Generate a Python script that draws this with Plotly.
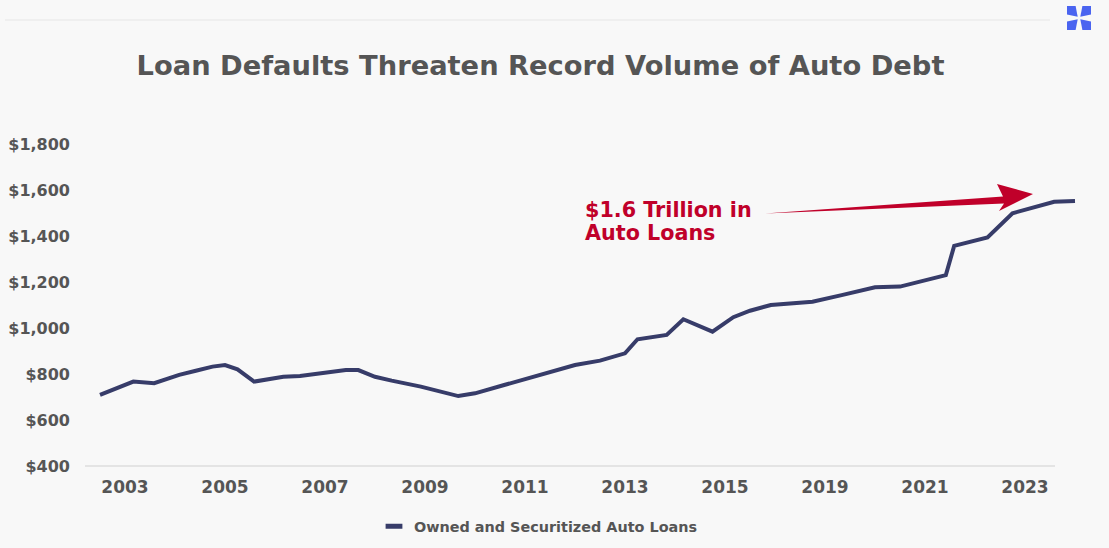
import plotly.graph_objects as go

# Motor vehicle loans owned and securitized, billions of dollars.
# x is months counted from January 2003.
months = [-6, 2, 7, 13, 17, 21, 24, 27, 31, 38, 42, 49, 53, 56, 60, 64, 71,
          80, 84, 91, 96, 103, 108, 114, 120, 123, 130, 134, 141, 146, 150,
          155, 165, 172, 180, 186, 191, 197, 199, 207, 213, 218, 223, 228]
loans = [709, 767, 760, 796, 814, 832, 839, 820, 767, 788, 791, 806, 817, 817,
         788, 771, 745, 704, 716, 752, 777, 810, 839, 858, 890, 951, 970, 1038,
         984, 1047, 1075, 1100, 1114, 1143, 1177, 1180, 1201, 1230, 1357, 1394,
         1499, 1525, 1549, 1552]

tick_months = [0, 24, 48, 72, 96, 120, 144, 168, 192, 216]
tick_labels = ["2003", "2005", "2007", "2009", "2011", "2013", "2015",
               "2019", "2021", "2023"]
y_ticks = [400, 600, 800, 1000, 1200, 1400, 1600, 1800]
y_labels = ["$400", "$600", "$800", "$1,000", "$1,200", "$1,400", "$1,600",
            "$1,800"]

series_name = "Owned and Securitized Auto Loans"
title_text = "Loan Defaults Threaten Record Volume of Auto Debt"
callout_lines = ["$1.6 Trillion in", "Auto Loans"]

NAVY = "#373c69"
RED = "#c0002a"
GREY = "#555555"
BG = "#f8f8f8"
FONT = "DejaVu Sans"

W, H = 1109, 548
ML, MR, MT, MB = 85, 29, 144, 82
plot_w = W - ML - MR
plot_h = H - MT - MB
AXIS_END = 1055  # right end of the baseline rule


def px(X, Y):
    """Page pixel -> pixel offset from the plot's lower-left corner (y up)."""
    return X - ML, (H - MB) - Y


def pixel_path(points):
    pts = [px(a, b) for a, b in points]
    return "M" + " L".join(f"{a:.1f},{b:.1f}" for a, b in pts) + " Z"


def pixel_shape(**kw):
    base = dict(xref="paper", yref="paper", xsizemode="pixel",
                ysizemode="pixel", xanchor=0, yanchor=0)
    base.update(kw)
    return base


fig = go.Figure()

fig.add_trace(go.Scatter(
    x=months, y=loans, mode="lines",
    line=dict(color=NAVY, width=4),
    showlegend=False, legendgroup="auto", name=series_name,
))
# legend entry drawn as a short thick bar
fig.add_trace(go.Scatter(
    x=[None], y=[None], mode="markers", name=series_name,
    legendgroup="auto",
    marker=dict(symbol="line-ew-open", size=12, color=NAVY,
                line=dict(width=5, color=NAVY)),
))

shapes = []
# thin rule across the top of the page
x0, y0 = px(5, 20)
x1, _ = px(1050, 20)
shapes.append(pixel_shape(type="line", x0=x0, x1=x1, y0=y0, y1=y0,
                          line=dict(color="#e6e6e6", width=1), layer="below"))
# baseline rule under the series
bx0, by0 = px(ML, H - MB)
bx1, _ = px(AXIS_END, H - MB)
shapes.append(pixel_shape(type="line", x0=bx0, x1=bx1, y0=by0, y1=by0,
                          line=dict(color="#dedede", width=1.5), layer="below"))

# tapered call-out arrow
arrow = [(765, 213.5), (1003, 196.5), (997, 184), (1033, 194),
         (999, 211), (1004, 203.5)]
shapes.append(pixel_shape(type="path", path=pixel_path(arrow),
                          fillcolor=RED, line=dict(width=0)))

# four-petal logo in the top-right corner
cx, cy = 1079, 18
for sx in (-1, 1):
    for sy in (-1, 1):
        petal = [(cx + sx * 12, cy + sy * 12), (cx + sx * 3.4, cy + sy * 12),
                 (cx + sx * 1.3, cy + sy * 1.3), (cx + sx * 12, cy + sy * 3.4)]
        shapes.append(pixel_shape(type="path", path=pixel_path(petal),
                                  fillcolor="#4a64f0", line=dict(width=0)))

annotations = []
for text, yc in zip(callout_lines, (209.5, 232.5)):
    annotations.append(dict(
        text=text, xref="paper", yref="paper",
        x=(583 - ML) / plot_w, xanchor="left", align="left",
        y=((H - MB) - yc) / plot_h, yanchor="middle", showarrow=False,
        font=dict(family=FONT, size=20.7, weight=700, color=RED)))

fig.update_layout(
    width=W, height=H,
    margin=dict(l=ML, r=MR, t=MT, b=MB, pad=0, autoexpand=False),
    paper_bgcolor=BG, plot_bgcolor=BG,
    font=dict(family=FONT, color=GREY),
    title=dict(text=title_text, x=540.5 / W, xanchor="center",
               y=1 - 65 / H, yanchor="middle", xref="container",
               yref="container",
               font=dict(family=FONT, size=27.3, weight=700, color=GREY)),
    xaxis=dict(range=[(ML - 125) * 0.24, (W - MR - 125) * 0.24],
               tickvals=tick_months, ticktext=tick_labels,
               showgrid=False, zeroline=False, showline=False, ticks="",
               ticklabelstandoff=9,
               tickfont=dict(family=FONT, size=17, weight=700, color=GREY)),
    yaxis=dict(range=[400, 1800], tickvals=y_ticks, ticktext=y_labels,
               showgrid=False, zeroline=False,
               showline=False, ticks="", ticklabelstandoff=14,
               tickfont=dict(family=FONT, size=16, weight=700, color=GREY)),
    showlegend=True,
    legend=dict(orientation="h", x=(374 - ML) / plot_w, xanchor="left",
                y=-(526.5 - (H - MB)) / plot_h, yanchor="middle",
                bgcolor="rgba(0,0,0,0)",
                font=dict(family=FONT, size=14.4, weight=700, color=GREY)),
    annotations=annotations,
    shapes=shapes,
)

fig.write_html("out.html")
